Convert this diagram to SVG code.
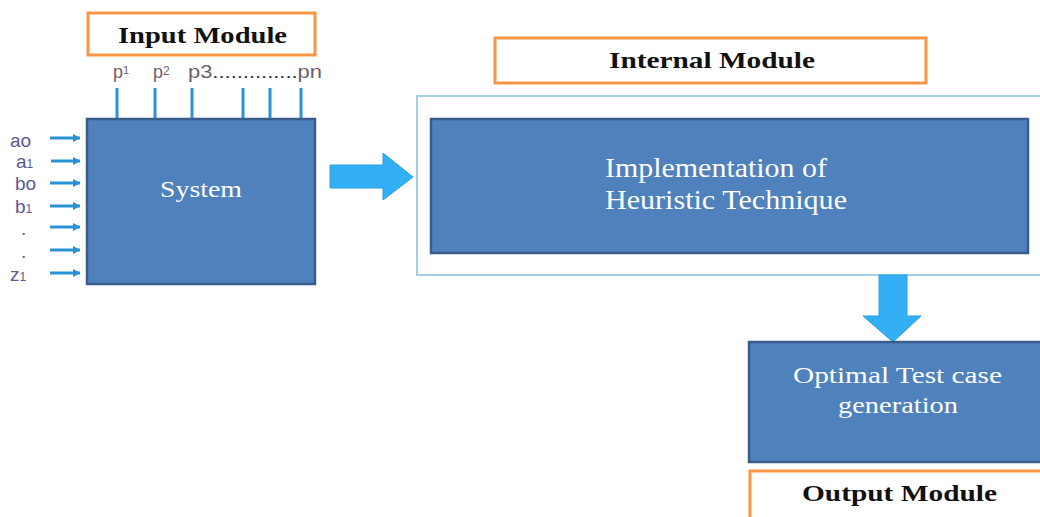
<svg xmlns="http://www.w3.org/2000/svg" width="1040" height="517" viewBox="0 0 1040 517">
  <defs>
    <style>
      .title { fill: #ffffff; stroke: #f79646; stroke-width: 3; }
      .titletext { font-family: "Liberation Serif", "Times New Roman", serif; font-weight: bold; font-size: 24px; fill: #111111; }
      .node { fill: #4f81bd; stroke: #385d8a; stroke-width: 2.5; }
      .nodetext { font-family: "Liberation Serif", "Times New Roman", serif; fill: #ffffff; }
      .frame { fill: #ffffff; stroke: #a5cde4; stroke-width: 2; }
      .pin { stroke: #2a93d5; stroke-width: 3; fill: none; }
      .lbl { font-family: "Liberation Sans", Arial, sans-serif; font-size: 19px; fill: #5c5a8e; }
      .plbl { font-family: "Liberation Sans", Arial, sans-serif; font-size: 18px; fill: #6e5d6a; }
      .block { fill: #33b0f5; stroke: #2a9fe0; stroke-width: 1; }
    </style>
    <marker id="ah" viewBox="0 0 10 10" refX="9" refY="5" markerWidth="2.6" markerHeight="2.6" orient="auto" markerUnits="strokeWidth">
      <path d="M0,0 L10,5 L0,10 z" fill="#2a93d5"/>
    </marker>
  </defs>

  <g id="input-module-title">
    <rect class="title" x="88" y="13" width="227" height="42"/>
    <text class="titletext" x="118" y="43" textLength="169" lengthAdjust="spacingAndGlyphs">Input Module</text>
  </g>

  <g id="internal-module-title">
    <rect class="title" x="495" y="38" width="431" height="45"/>
    <text class="titletext" x="609" y="68" textLength="206" lengthAdjust="spacingAndGlyphs">Internal Module</text>
  </g>

  <g id="internal-frame">
    <rect class="frame" x="417" y="96" width="640" height="179"/>
  </g>

  <g id="system">
    <rect class="node" x="87" y="119" width="228" height="165"/>
    <text class="nodetext" x="201" y="197" font-size="23" text-anchor="middle" textLength="82" lengthAdjust="spacingAndGlyphs">System</text>
  </g>

  <g id="pins">
    <text class="plbl" x="113" y="78">p<tspan font-size="11" dy="-4">1</tspan></text>
    <text class="plbl" x="153" y="78">p<tspan font-size="12" dy="-3">2</tspan></text>
    <text class="plbl" x="188" y="78" textLength="134" lengthAdjust="spacingAndGlyphs">p3<tspan fill="#333355">..............</tspan>pn</text>
    <line class="pin" x1="117" y1="88" x2="117" y2="118"/>
    <line class="pin" x1="155" y1="88" x2="155" y2="118"/>
    <line class="pin" x1="192" y1="88" x2="192" y2="118"/>
    <line class="pin" x1="243" y1="88" x2="243" y2="118"/>
    <line class="pin" x1="270" y1="88" x2="270" y2="118"/>
    <line class="pin" x1="301" y1="88" x2="301" y2="118"/>
  </g>

  <g id="inputs">
    <text class="lbl" x="10" y="147">ao</text>
    <text class="lbl" x="16" y="168">a<tspan font-size="12">1</tspan></text>
    <text class="lbl" x="15" y="190">bo</text>
    <text class="lbl" x="15" y="213">b<tspan font-size="12">1</tspan></text>
    <text class="lbl" x="21" y="235">.</text>
    <text class="lbl" x="21" y="258">.</text>
    <text class="lbl" x="10" y="281">z<tspan font-size="12">1</tspan></text>
  </g>

  <g id="connectors">
    <line class="pin" x1="50" y1="138" x2="80" y2="138" marker-end="url(#ah)"/>
    <line class="pin" x1="51" y1="161" x2="80" y2="161" marker-end="url(#ah)"/>
    <line class="pin" x1="50" y1="183" x2="80" y2="183" marker-end="url(#ah)"/>
    <line class="pin" x1="50" y1="206" x2="80" y2="206" marker-end="url(#ah)"/>
    <line class="pin" x1="50" y1="227" x2="80" y2="227" marker-end="url(#ah)"/>
    <line class="pin" x1="50" y1="250" x2="80" y2="250" marker-end="url(#ah)"/>
    <line class="pin" x1="50" y1="273" x2="80" y2="273" marker-end="url(#ah)"/>
    <path class="block" d="M330,165 L383,165 L383,153 L413,177 L383,200 L383,188 L330,188 Z"/>
    <path class="block" d="M879,275 L907,275 L907,316 L921,316 L893,342 L863,316 L879,316 Z"/>
  </g>

  <g id="heuristic">
    <rect class="node" x="431" y="119" width="597" height="134"/>
    <text class="nodetext" x="605" y="177" font-size="27" textLength="222" lengthAdjust="spacingAndGlyphs">Implementation of</text>
    <text class="nodetext" x="605" y="209" font-size="27" textLength="242" lengthAdjust="spacingAndGlyphs">Heuristic Technique</text>
  </g>

  <g id="optimal">
    <rect class="node" x="749" y="342" width="300" height="120"/>
    <text class="nodetext" x="793" y="383" font-size="23" textLength="209" lengthAdjust="spacingAndGlyphs">Optimal  Test  case</text>
    <text class="nodetext" x="838" y="413" font-size="23" textLength="120" lengthAdjust="spacingAndGlyphs">generation</text>
  </g>

  <g id="output-module-title">
    <rect class="title" x="750" y="471" width="300" height="60"/>
    <text class="titletext" x="802" y="501" textLength="195" lengthAdjust="spacingAndGlyphs">Output Module</text>
  </g>
</svg>
